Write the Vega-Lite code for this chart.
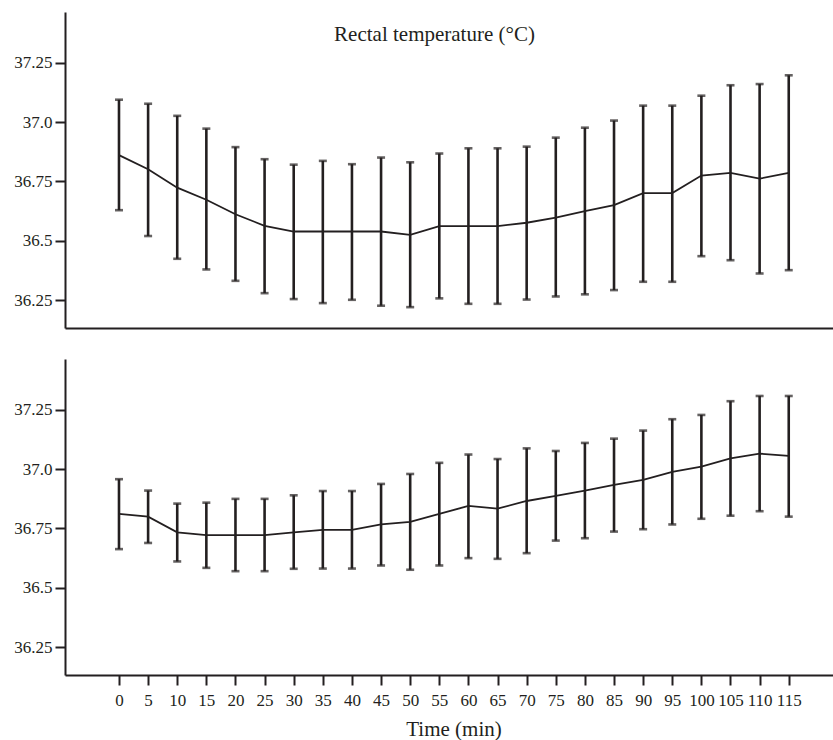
{
  "$schema": "https://vega.github.io/schema/vega-lite/v6.json",
  "padding": {"left": 0, "top": 12, "right": 0, "bottom": 0},
  "background": "white",
  "spacing": 31,
  "config": {
    "font": "Liberation Serif",
    "view": {"stroke": null},
    "style": {"guide-label": {"font": "Liberation Serif", "fontSize": 17, "fill": "#231f20"}, "guide-title": {"font": "Liberation Serif", "fontSize": 21, "fontWeight": "normal", "fill": "#231f20"}},
    "axis": {
      "domainColor": "#231f20", "domainWidth": 2, "tickColor": "#231f20", "tickWidth": 2,
      "labelColor": "#231f20", "labelFont": "Liberation Serif", "labelFontSize": 17,
      "grid": false, "titleFont": "Liberation Serif", "titleFontSize": 21,
      "titleFontWeight": "normal", "titleColor": "#231f20"
    }
  },
  "datasets": {
    "top": [
      {"t": 0, "mean": 36.861, "lo": 36.629, "hi": 37.095},
      {"t": 5, "mean": 36.802, "lo": 36.520, "hi": 37.078},
      {"t": 10, "mean": 36.724, "lo": 36.424, "hi": 37.027},
      {"t": 15, "mean": 36.673, "lo": 36.379, "hi": 36.973},
      {"t": 20, "mean": 36.612, "lo": 36.331, "hi": 36.895},
      {"t": 25, "mean": 36.563, "lo": 36.279, "hi": 36.844},
      {"t": 30, "mean": 36.539, "lo": 36.254, "hi": 36.821},
      {"t": 35, "mean": 36.539, "lo": 36.237, "hi": 36.837},
      {"t": 40, "mean": 36.539, "lo": 36.251, "hi": 36.823},
      {"t": 45, "mean": 36.539, "lo": 36.226, "hi": 36.851},
      {"t": 50, "mean": 36.525, "lo": 36.220, "hi": 36.831},
      {"t": 55, "mean": 36.562, "lo": 36.257, "hi": 36.868},
      {"t": 60, "mean": 36.562, "lo": 36.234, "hi": 36.890},
      {"t": 65, "mean": 36.562, "lo": 36.234, "hi": 36.890},
      {"t": 70, "mean": 36.576, "lo": 36.252, "hi": 36.897},
      {"t": 75, "mean": 36.598, "lo": 36.265, "hi": 36.935},
      {"t": 80, "mean": 36.625, "lo": 36.274, "hi": 36.977},
      {"t": 85, "mean": 36.650, "lo": 36.292, "hi": 37.007},
      {"t": 90, "mean": 36.701, "lo": 36.327, "hi": 37.070},
      {"t": 95, "mean": 36.701, "lo": 36.327, "hi": 37.070},
      {"t": 100, "mean": 36.775, "lo": 36.435, "hi": 37.112},
      {"t": 105, "mean": 36.786, "lo": 36.418, "hi": 37.156},
      {"t": 110, "mean": 36.762, "lo": 36.362, "hi": 37.161},
      {"t": 115, "mean": 36.786, "lo": 36.376, "hi": 37.198}
    ],
    "bottom": [
      {"t": 0, "mean": 36.812, "lo": 36.663, "hi": 36.958},
      {"t": 5, "mean": 36.800, "lo": 36.689, "hi": 36.910},
      {"t": 10, "mean": 36.734, "lo": 36.611, "hi": 36.855},
      {"t": 15, "mean": 36.722, "lo": 36.584, "hi": 36.859},
      {"t": 20, "mean": 36.722, "lo": 36.570, "hi": 36.875},
      {"t": 25, "mean": 36.722, "lo": 36.570, "hi": 36.875},
      {"t": 30, "mean": 36.734, "lo": 36.580, "hi": 36.890},
      {"t": 35, "mean": 36.744, "lo": 36.581, "hi": 36.908},
      {"t": 40, "mean": 36.744, "lo": 36.581, "hi": 36.908},
      {"t": 45, "mean": 36.767, "lo": 36.594, "hi": 36.938},
      {"t": 50, "mean": 36.778, "lo": 36.576, "hi": 36.980},
      {"t": 55, "mean": 36.812, "lo": 36.594, "hi": 37.027},
      {"t": 60, "mean": 36.845, "lo": 36.625, "hi": 37.062},
      {"t": 65, "mean": 36.834, "lo": 36.622, "hi": 37.043},
      {"t": 70, "mean": 36.866, "lo": 36.646, "hi": 37.088},
      {"t": 75, "mean": 36.888, "lo": 36.699, "hi": 37.077},
      {"t": 80, "mean": 36.910, "lo": 36.709, "hi": 37.111},
      {"t": 85, "mean": 36.934, "lo": 36.737, "hi": 37.129},
      {"t": 90, "mean": 36.955, "lo": 36.747, "hi": 37.163},
      {"t": 95, "mean": 36.989, "lo": 36.767, "hi": 37.211},
      {"t": 100, "mean": 37.011, "lo": 36.791, "hi": 37.229},
      {"t": 105, "mean": 37.046, "lo": 36.804, "hi": 37.287},
      {"t": 110, "mean": 37.066, "lo": 36.823, "hi": 37.309},
      {"t": 115, "mean": 37.056, "lo": 36.800, "hi": 37.309}
    ]
  },
  "vconcat": [
    {
      "width": 768, "height": 316,
      "data": {"name": "top"},
      "title": {"text": "Rectal temperature (°C)", "orient": "top", "anchor": "middle", "frame": "group", "offset": -49.5, "baseline": "alphabetic", "fontSize": 21, "font": "Liberation Serif", "fontWeight": "normal", "color": "#231f20", "dx": -14.5},
      "encoding": {
        "x": {"field": "t", "type": "quantitative", "scale": {"domain": [-9.27, 122.6], "nice": false, "zero": false},
              "axis": {"labels": false, "ticks": false, "title": null, "minExtent": 0, "maxExtent": 0}}
      },
      "layer": [
        {"mark": {"type": "rule", "strokeWidth": 2.6, "color": "#231f20"},
         "encoding": {
           "y": {"field": "lo", "type": "quantitative", "scale": {"domain": [36.132, 37.465], "nice": false, "zero": false},
                 "axis": {"title": null, "values": [36.25, 36.5, 36.75, 37, 37.25], "tickSize": 10, "labelPadding": 3, "minExtent": 65, "maxExtent": 65,
                          "labelFont": "Liberation Serif", "labelFontSize": 17,
                          "labelExpr": "datum.value % 0.5 == 0 ? format(datum.value, '.1f') : format(datum.value, '.2f')"}},
           "y2": {"field": "hi"}}},
        {"mark": {"type": "tick", "orient": "horizontal", "size": 8, "thickness": 2.6, "color": "#231f20"},
         "encoding": {"y": {"field": "lo", "type": "quantitative"}}},
        {"mark": {"type": "tick", "orient": "horizontal", "size": 8, "thickness": 2.6, "color": "#231f20"},
         "encoding": {"y": {"field": "hi", "type": "quantitative"}}},
        {"mark": {"type": "line", "strokeWidth": 1.8, "color": "#231f20"},
         "encoding": {"y": {"field": "mean", "type": "quantitative"}}}
      ]
    },
    {
      "width": 768, "height": 316,
      "data": {"name": "bottom"},
      "encoding": {
        "x": {"field": "t", "type": "quantitative", "scale": {"domain": [-9.27, 122.6], "nice": false, "zero": false},
              "axis": {"title": "Time (min)", "values": [0,5,10,15,20,25,30,35,40,45,50,55,60,65,70,75,80,85,90,95,100,105,110,115],
                       "tickSize": 10, "labelPadding": 20.5, "labelBaseline": "alphabetic", "labelOverlap": false, "labelFlush": false, "labelBound": false,
                       "labelFont": "Liberation Serif", "labelFontSize": 17, "titleFont": "Liberation Serif",
                       "titleBaseline": "alphabetic", "titleY": 60.5, "titleX": 388.5}}
      },
      "layer": [
        {"mark": {"type": "rule", "strokeWidth": 2.6, "color": "#231f20"},
         "encoding": {
           "y": {"field": "lo", "type": "quantitative", "scale": {"domain": [36.132, 37.465], "nice": false, "zero": false},
                 "axis": {"title": null, "values": [36.25, 36.5, 36.75, 37, 37.25], "tickSize": 10, "labelPadding": 3, "minExtent": 65, "maxExtent": 65,
                          "labelFont": "Liberation Serif", "labelFontSize": 17,
                          "labelExpr": "datum.value % 0.5 == 0 ? format(datum.value, '.1f') : format(datum.value, '.2f')"}},
           "y2": {"field": "hi"}}},
        {"mark": {"type": "tick", "orient": "horizontal", "size": 8, "thickness": 2.6, "color": "#231f20"},
         "encoding": {"y": {"field": "lo", "type": "quantitative"}}},
        {"mark": {"type": "tick", "orient": "horizontal", "size": 8, "thickness": 2.6, "color": "#231f20"},
         "encoding": {"y": {"field": "hi", "type": "quantitative"}}},
        {"mark": {"type": "line", "strokeWidth": 1.8, "color": "#231f20"},
         "encoding": {"y": {"field": "mean", "type": "quantitative"}}}
      ]
    }
  ]
}
